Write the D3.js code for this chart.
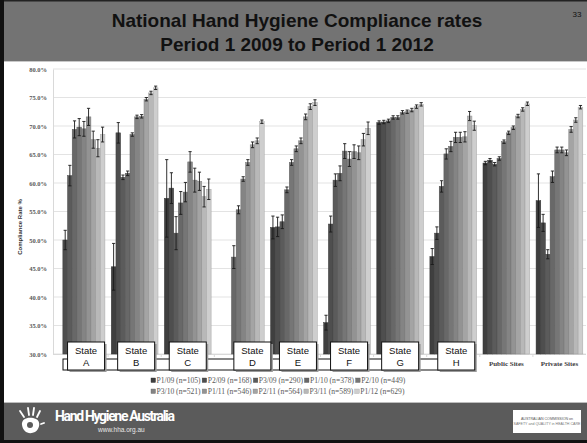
<!DOCTYPE html>
<html><head><meta charset="utf-8">
<script src="https://cdnjs.cloudflare.com/ajax/libs/d3/7.8.5/d3.min.js"></script>
<style>body{margin:0;background:#fff}svg{display:block}</style>
</head><body>
<svg id="c" width="587" height="443"></svg>
<script>
const categories = ["State A","State B","State C","State D","State E","State F","State G","State H","Public Sites","Private Sites"];
const seriesNames = ["P1/09 (n=105)","P2/09 (n=168)","P3/09 (n=290)","P1/10 (n=378)","P2/10 (n=449)","P3/10 (n=521)","P1/11 (n=546)","P2/11 (n=564)","P3/11 (n=589)","P1/12 (n=629)"];
const seriesColors = ["#3f3f3f","#4e4e4e","#5b5b5b","#686868","#767676","#848484","#939393","#a4a4a4","#b8b8b8","#cecece"];
// values per series, by category
const p1_09 = [null,45.3,57.3,null,52.2,35.5,70.6,47.1,63.5,56.9];
const p2_09 = [50.0,68.8,59.1,null,52.3,52.8,70.7,51.2,64.0,53.0];
const p3_09 = [61.3,61.0,51.2,null,53.2,60.5,70.9,59.4,63.3,47.5];
const p1_10 = [69.4,61.7,56.5,47.0,58.8,61.7,71.5,65.1,64.3,61.1];
const p2_10 = [69.8,68.5,58.4,55.3,63.6,65.6,71.5,66.4,67.25,65.8];
const p3_10 = [69.5,71.6,63.7,60.7,66.0,64.2,72.4,68.0,68.8,65.8];
const p1_11 = [71.6,71.7,60.5,63.6,67.4,65.5,72.5,68.0,69.7,65.3];
const p2_11 = [67.6,74.7,60.3,66.7,71.6,65.3,72.8,68.1,71.75,69.4];
const p3_11 = [66.1,75.8,57.6,67.4,73.4,67.6,73.4,71.75,72.9,71.05];
const p1_12 = [68.5,76.7,58.9,70.75,74.1,69.6,73.8,70.05,73.9,73.3];
// error half-widths per series
const e1_09 = [null,4.1,6.8,null,2.0,1.3,0.3,1.4,0.3,4.7];
const e2_09 = [1.7,1.8,2.7,null,1.7,1.4,0.3,1.1,0.3,1.5];
const e3_09 = [1.8,0.4,2.9,null,1.2,1.1,0.3,1.0,0.3,0.8];
const e1_10 = [1.5,0.4,2.0,2.0,0.5,1.3,0.3,0.9,0.3,1.0];
const e2_10 = [1.5,0.3,1.7,0.7,0.5,1.3,0.3,0.9,0.3,0.5];
const e3_10 = [1.3,0.3,1.8,0.4,0.5,1.3,0.3,0.9,0.3,0.5];
const e1_11 = [1.5,0.3,2.1,0.5,0.5,1.2,0.3,0.9,0.3,0.5];
const e2_11 = [1.5,0.3,1.6,0.5,0.5,1.2,0.3,0.9,0.3,0.5];
const e3_11 = [1.5,0.3,1.8,0.5,0.5,1.1,0.3,0.8,0.3,0.4];
const e1_12 = [1.3,0.3,1.8,0.3,0.5,1.1,0.3,0.8,0.3,0.3];
const yTicks = [30,35,40,45,50,55,60,65,70,75,80];

const values = [p1_09,p2_09,p3_09,p1_10,p2_10,p3_10,p1_11,p2_11,p3_11,p1_12];
const errors = [e1_09,e2_09,e3_09,e1_10,e2_10,e3_10,e1_11,e2_11,e3_11,e1_12];

const svg = d3.select("#c");
const W = 587, H = 443;

// slide background
svg.append("rect").attr("x",0).attr("y",0).attr("width",W).attr("height",H).attr("fill","#fff");
// header
svg.append("rect").attr("x",0).attr("y",0).attr("width",W).attr("height",61).attr("fill","#737373");
svg.append("rect").attr("x",0).attr("y",0).attr("width",W).attr("height",1.5).attr("fill","#222");
svg.append("line").attr("x1",0).attr("x2",W).attr("y1",61.5).attr("y2",61.5).attr("stroke","#c8c8c8").attr("stroke-width",1);
svg.append("text").attr("x",297).attr("y",27).attr("text-anchor","middle")
  .style("font-family","Liberation Sans, Arial, sans-serif").style("font-weight","bold").style("font-size","19px").attr("fill","#111")
  .text("National Hand Hygiene Compliance rates");
svg.append("text").attr("x",297).attr("y",51).attr("text-anchor","middle")
  .style("font-family","Liberation Sans, Arial, sans-serif").style("font-weight","bold").style("font-size","19px").attr("fill","#111")
  .text("Period 1 2009 to Period 1 2012");
svg.append("text").attr("x",577).attr("y",17).attr("text-anchor","middle")
  .style("font-family","Liberation Sans, Arial, sans-serif").style("font-size","8px").attr("fill","#111").text("33");

// plot
const plotL = 55, plotR = 586, plotT = 69, plotB = 354;
const y = d3.scaleLinear().domain([30,80]).range([plotB, plotT]);
const x0 = d3.scaleBand().domain(categories).range([plotL, plotR]).paddingInner(0.12).paddingOuter(0.06);
const x1 = d3.scaleBand().domain(d3.range(10)).range([0, x0.bandwidth()]).padding(0);

// gridlines
svg.append("g").selectAll("line").data(yTicks).join("line")
  .attr("x1",53).attr("x2",plotR).attr("y1",d=>y(d)).attr("y2",d=>y(d))
  .attr("stroke","#e3e3e3").attr("stroke-width",1);

// y axis labels
const yAxis = d3.axisLeft(y).tickValues(yTicks).tickFormat(d=>d.toFixed(1)+"%").tickSize(0).tickPadding(6);
const gy = svg.append("g").attr("transform",`translate(${53},0)`).call(yAxis);
gy.select(".domain").attr("stroke","#d9d9d9");
gy.selectAll("text").style("font-family","Liberation Serif, serif").style("font-size","6.5px").style("font-weight","bold").attr("fill","#595959");

svg.append("text").attr("transform","translate(22,227) rotate(-90)").attr("text-anchor","middle")
  .style("font-family","Liberation Sans, Arial, sans-serif").style("font-size","6px").style("font-weight","bold").attr("fill","#333")
  .text("Compliance Rate %");

// x axis line and ticks
svg.append("line").attr("x1",53).attr("x2",plotR).attr("y1",plotB+0.5).attr("y2",plotB+0.5).attr("stroke","#d9d9d9");
const bounds = categories.slice(1).map(c => x0(c) - x0.step()*x0.paddingInner()/2);
svg.append("g").selectAll("line").data(bounds).join("line")
  .attr("x1",d=>d).attr("x2",d=>d).attr("y1",plotB).attr("y2",plotB+3).attr("stroke","#d9d9d9");

// bars
const cells = [];
values.forEach((arr,s)=>arr.forEach((v,c)=>{ if(v!=null) cells.push({s,c,v,e:errors[s][c]}); }));
svg.append("g").selectAll("rect").data(cells).join("rect")
  .attr("x",d=>x0(categories[d.c])+x1(d.s))
  .attr("width",x1.bandwidth())
  .attr("y",d=>y(d.v))
  .attr("height",d=>y(30)-y(d.v))
  .attr("fill",d=>seriesColors[d.s])
  .attr("stroke",d=>d3.color(seriesColors[d.s]).darker(0.6))
  .attr("stroke-width",0.5);

// error bars
const eg = svg.append("g").attr("stroke","#1a1a1a").attr("stroke-width",0.9);
cells.forEach(d=>{
  const cx = x0(categories[d.c])+x1(d.s)+x1.bandwidth()/2;
  const yt = y(d.v+d.e), yb = y(d.v-d.e);
  eg.append("line").attr("x1",cx).attr("x2",cx).attr("y1",yt).attr("y2",yb);
  eg.append("line").attr("x1",cx-1.6).attr("x2",cx+1.6).attr("y1",yt).attr("y2",yt);
  eg.append("line").attr("x1",cx-1.6).attr("x2",cx+1.6).attr("y1",yb).attr("y2",yb);
});

// category labels for non-state groups
svg.append("g").selectAll("text").data(categories.slice(8)).join("text")
  .attr("x",d=>x0(d)+x0.bandwidth()/2).attr("y",366).attr("text-anchor","middle")
  .style("font-family","Liberation Serif, serif").style("font-size","7px").style("font-weight","bold").attr("fill","#404040")
  .text(d=>d);

// state callout boxes
const stateOffsets = [4.5,1.5,0,11.5,4,2,0,3];
const states = categories.slice(0,8);
svg.append("rect").attr("x",63).attr("y",359).attr("width",397).attr("height",11)
  .attr("fill","#fff").attr("stroke","#111").attr("stroke-width",1);
const sb = svg.append("g").selectAll("g").data(states).join("g")
  .attr("transform",(d,i)=>`translate(${x0(d)+x0.bandwidth()/2+stateOffsets[i]-18.5},342)`);
sb.append("rect").attr("x",2).attr("y",2).attr("width",37).attr("height",28).attr("fill","#9a9a9a");
sb.append("rect").attr("x",0).attr("y",0).attr("width",37).attr("height",28).attr("fill","#fff").attr("stroke","#111").attr("stroke-width",1);
sb.append("text").attr("x",18.5).attr("y",12).attr("text-anchor","middle")
  .style("font-family","Liberation Sans, Arial, sans-serif").style("font-size","9.5px").attr("fill","#111").text("State");
sb.append("text").attr("x",18.5).attr("y",23.5).attr("text-anchor","middle")
  .style("font-family","Liberation Sans, Arial, sans-serif").style("font-size","9.5px").attr("fill","#111").text(d=>d.replace("State ",""));

// legend
const lg = svg.append("g");
[[0,5,383],[5,10,394]].forEach(([a,b,ly])=>{
  let cx = 151;
  for(let i=a;i<b;i++){
    lg.append("rect").attr("x",cx).attr("y",ly-5).attr("width",4.5).attr("height",4.5)
      .attr("fill",seriesColors[i]).attr("stroke",d3.color(seriesColors[i]).darker(0.6)).attr("stroke-width",0.4);
    const t = lg.append("text").attr("x",cx+5.5).attr("y",ly)
      .style("font-family","Liberation Serif, serif").style("font-size","7.6px").attr("fill","#595959").text(seriesNames[i]);
    cx += 5.5 + t.node().getComputedTextLength() + 1.5;
  }
});

// footer
svg.append("rect").attr("x",0).attr("y",403).attr("width",W).attr("height",40).attr("fill","#5b5b5b");
svg.append("line").attr("x1",0).attr("x2",W).attr("y1",402.5).attr("y2",402.5).attr("stroke","#bdbdbd");
svg.append("rect").attr("x",0).attr("y",440).attr("width",W).attr("height",3).attr("fill","#111");
// left border
svg.append("rect").attr("x",0).attr("y",0).attr("width",4).attr("height",H).attr("fill","#111");

// logo
const lgo = svg.append("g").attr("fill","#fff").attr("stroke","#fff");
lgo.append("path").attr("d","M22,425 C21,418 30,416 36,419 C41,421 40,429 35,432 C29,435 23,432 22,425 Z").attr("stroke","none");
lgo.append("circle").attr("cx",30).attr("cy",425).attr("r",3).attr("fill","#5b5b5b").attr("stroke","none");
[[20,411,24,417],[28,408,29,415],[34,408,33,415],[40,411,37,417],[44,423,41,424]].forEach(p=>
  lgo.append("line").attr("x1",p[0]).attr("y1",p[1]).attr("x2",p[2]).attr("y2",p[3]).attr("stroke-width",1.8).attr("stroke-linecap","round"));
svg.append("text").attr("x",55).attr("y",421)
  .style("font-family","Liberation Sans Narrow, Roboto, sans-serif").style("font-size","14px").style("font-weight","bold").attr("fill","#fff")
  .attr("textLength",120).text("Hand Hygiene Australia");
svg.append("text").attr("x",98).attr("y",432)
  .style("font-family","Liberation Sans, Arial, sans-serif").style("font-size","6.5px").attr("fill","#e8e8e8").text("www.hha.org.au");
svg.append("rect").attr("x",513).attr("y",410).attr("width",68).attr("height",23).attr("fill","#fff");
svg.append("text").attr("x",547).attr("y",420).attr("text-anchor","middle")
  .style("font-family","Liberation Sans, Arial, sans-serif").style("font-size","3.6px").attr("fill","#555").text("AUSTRALIAN COMMISSION on");
svg.append("text").attr("x",547).attr("y",425).attr("text-anchor","middle")
  .style("font-family","Liberation Sans, Arial, sans-serif").style("font-size","3.6px").attr("fill","#777").text("SAFETY and QUALITY in HEALTH CARE");
</script>
</body></html>
